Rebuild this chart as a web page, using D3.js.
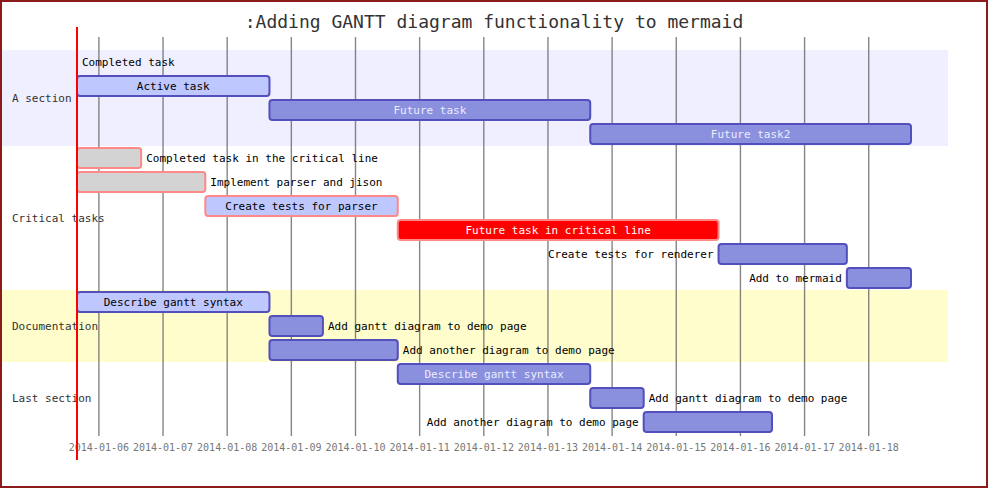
<!DOCTYPE html>
<html>
<head>
<meta charset="utf-8">
<script src="https://cdn.jsdelivr.net/npm/d3@7"></script>
<style>
  html, body { margin: 0; padding: 0; background: #fff; }
  svg { display: block; }
  text { font-family: "DejaVu Sans Mono", monospace; }
</style>
</head>
<body>
<svg id="chart" width="988" height="488"></svg>
<script>
const title = ":Adding GANTT diagram functionality to mermaid";
const sections = ["A section", "Critical tasks", "Documentation", "Last section"];
const sectionColors = ["#6666ff", "#ffffff", "#fff400", "#ffffff"];
const taskNames = [
  "Completed task", "Active task", "Future task", "Future task2",
  "Completed task in the critical line", "Implement parser and jison", "Create tests for parser",
  "Future task in critical line", "Create tests for renderer", "Add to mermaid",
  "Describe gantt syntax", "Add gantt diagram to demo page", "Add another diagram to demo page",
  "Describe gantt syntax", "Add gantt diagram to demo page", "Add another diagram to demo page"
];
const taskSections = [0,0,0,0, 1,1,1,1,1,1, 2,2,2, 3,3,3];
const taskTypes = ["done","active","future","future",
  "critDone","critDone","critActive","crit","future","future",
  "active","future","future",
  "future","future","future"];
const taskStarts = [
  "2014-01-05 16:00","2014-01-05 16:00","2014-01-08 16:00","2014-01-13 16:00",
  "2014-01-05 16:00","2014-01-05 16:00","2014-01-07 16:00","2014-01-10 16:00","2014-01-15 16:00","2014-01-17 16:00",
  "2014-01-05 16:00","2014-01-08 16:00","2014-01-08 16:00",
  "2014-01-10 16:00","2014-01-13 16:00","2014-01-14 12:00"
];
const taskEnds = [
  "2014-01-05 16:00","2014-01-08 16:00","2014-01-13 16:00","2014-01-18 16:00",
  "2014-01-06 16:00","2014-01-07 16:00","2014-01-10 16:00","2014-01-15 16:00","2014-01-17 16:00","2014-01-18 16:00",
  "2014-01-08 16:00","2014-01-09 12:00","2014-01-10 16:00",
  "2014-01-13 16:00","2014-01-14 12:00","2014-01-16 12:00"
];
const domainStart = "2014-01-05 16:00";
const domainEnd = "2014-01-18 16:00";
const todayMark = "2014-01-05 16:00";

const parse = d3.timeParse("%Y-%m-%d %H:%M");
const svg = d3.select("#chart");
const W = 988, H = 488;

const x = d3.scaleTime().domain([parse(domainStart), parse(domainEnd)]).range([77, 911]);
const rowTop = 50, rowH = 24, barH = 20;
const rowY = i => rowTop + rowH * i;

const styles = {
  done:       {fill: "#d3d3d3", stroke: "#534fbc", text: "#000"},
  active:     {fill: "#bfc7ff", stroke: "#534fbc", text: "#000"},
  future:     {fill: "#8a90dd", stroke: "#534fbc", text: "#ececff"},
  critDone:   {fill: "#d3d3d3", stroke: "#ff8888", text: "#000"},
  critActive: {fill: "#bfc7ff", stroke: "#ff8888", text: "#000"},
  crit:       {fill: "#ff0000", stroke: "#ff8888", text: "#fff"}
};

// section backgrounds
sections.forEach((s, si) => {
  const rows = taskSections.map((v, i) => v === si ? i : -1).filter(i => i >= 0);
  const y0 = rowY(d3.min(rows)), y1 = rowY(d3.max(rows) + 1);
  svg.append("rect").attr("x", 2).attr("y", y0).attr("width", 946).attr("height", y1 - y0)
    .attr("fill", sectionColors[si]).attr("fill-opacity", si === 0 ? 0.1 : (si === 2 ? 0.2 : 0));
});

// grid
const axis = d3.axisBottom(x).ticks(d3.timeDay.every(1)).tickFormat(d3.timeFormat("%Y-%m-%d"))
  .tickSize(-(436 - 37)).tickPadding(8);
const g = svg.append("g").attr("transform", "translate(0,436)").call(axis);
g.select(".domain").remove();
g.selectAll(".tick line").attr("stroke", "#666").attr("stroke-opacity", 0.8).attr("stroke-width", 1.4);
g.selectAll(".tick text").attr("fill", "#777").attr("font-size", 10)
  .attr("font-family", "DejaVu Sans Mono, monospace");

// tasks
taskNames.forEach((name, i) => {
  const st = styles[taskTypes[i]];
  const x0 = x(parse(taskStarts[i])), x1 = x(parse(taskEnds[i]));
  const yc = rowY(i) + rowH / 2;
  if (x1 - x0 > 0) {
    svg.append("rect").attr("x", x0).attr("y", yc - barH / 2)
      .attr("width", x1 - x0).attr("height", barH).attr("rx", 3).attr("ry", 3)
      .attr("fill", st.fill).attr("stroke", st.stroke).attr("stroke-width", 2);
  }
  const t = svg.append("text").text(name).attr("y", yc + 4).attr("font-size", 11);
  const tw = t.node().getComputedTextLength();
  if (tw < x1 - x0) {
    t.attr("x", (x0 + x1) / 2).attr("text-anchor", "middle").attr("fill", st.text);
  } else if (x1 + 5 + tw < 948) {
    t.attr("x", x1 + 5).attr("text-anchor", "start").attr("fill", "#000");
  } else {
    t.attr("x", x0 - 5).attr("text-anchor", "end").attr("fill", "#000");
  }
});

// section labels
sections.forEach((s, si) => {
  const rows = taskSections.map((v, i) => v === si ? i : -1).filter(i => i >= 0);
  const yc = (rowY(d3.min(rows)) + rowY(d3.max(rows) + 1)) / 2;
  svg.append("text").attr("x", 12).attr("y", yc + 4).attr("font-size", 11)
    .attr("fill", "#333").text(s);
});

// today line
svg.append("line").attr("x1", x(parse(todayMark))).attr("x2", x(parse(todayMark)))
  .attr("y1", 27).attr("y2", 460).attr("stroke", "#ff0000").attr("stroke-width", 2);

// title
svg.append("text").attr("x", W / 2).attr("y", 28).attr("text-anchor", "middle")
  .attr("font-size", 18).attr("fill", "#333").text(title);

// border
svg.append("rect").attr("x", 1).attr("y", 1).attr("width", W - 2).attr("height", H - 2)
  .attr("fill", "none").attr("stroke", "#8b1a1a").attr("stroke-width", 2);
</script>
</body>
</html>
